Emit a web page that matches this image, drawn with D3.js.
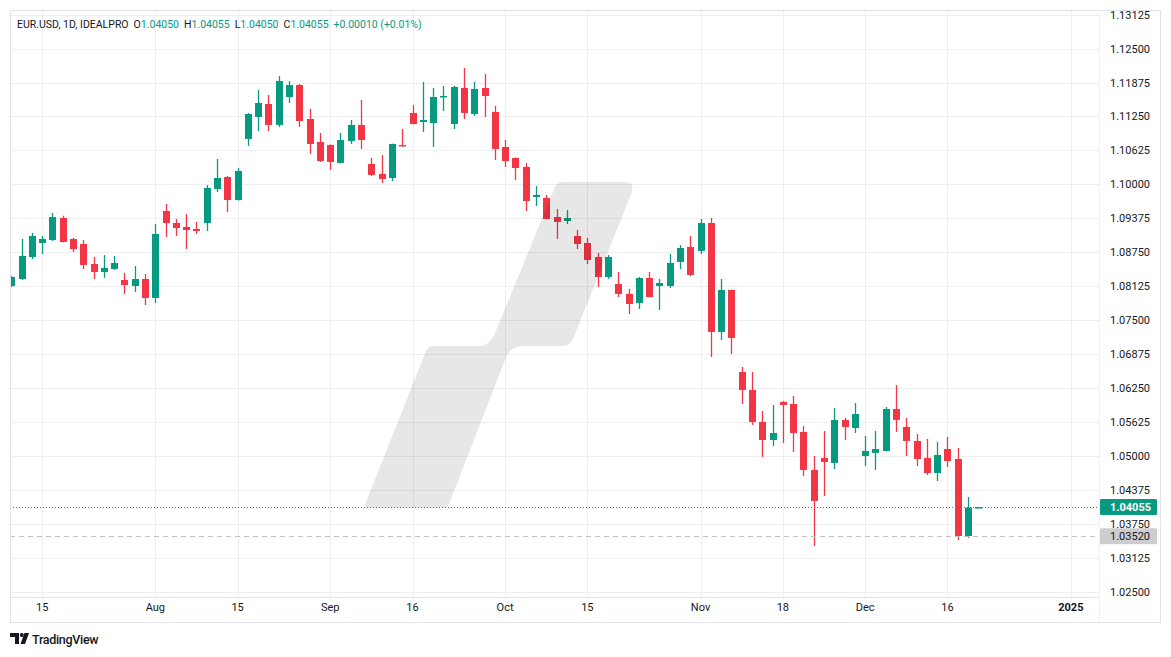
<!DOCTYPE html>
<html>
<head>
<meta charset="utf-8">
<script src="https://cdn.jsdelivr.net/npm/d3@7"></script>
<style>
  body { margin: 0; background: #fff; }
  svg { display: block; font-family: Roboto, "Noto Sans", sans-serif; }
</style>
</head>
<body>
<svg id="chart" width="1171" height="657"></svg>
<script>
// EUR.USD daily bars, one entry per bar (index 0 .. 94)
const opens = [1.08128,1.08257,1.08662,1.08920,1.08975,1.09380,1.08994,1.08902,1.08533,1.08386,
  1.08441,1.08238,1.08128,1.08257,1.07907,1.09509,1.09288,1.09215,1.09178,1.09288,
  1.09915,1.10136,1.09712,1.10836,1.11241,1.11480,1.11094,1.11609,1.11830,1.11204,
  1.10780,1.10725,1.10394,1.10799,1.11094,1.10375,1.10191,1.10117,1.10725,1.11315,
  1.11149,1.11130,1.11619,1.11112,1.11775,1.11296,1.11775,1.11333,1.10688,1.10486,
  1.10320,1.09767,1.09749,1.09399,1.09325,1.09049,1.08920,1.08662,1.08294,1.08165,
  1.07981,1.07815,1.08275,1.08128,1.08128,1.08570,1.08846,1.08773,1.09288,1.07281,
  1.08054,1.06544,1.06212,1.05623,1.05291,1.05991,1.05954,1.05439,1.04739,1.04960,
  1.04868,1.05660,1.05512,1.04997,1.05052,1.05089,1.05862,1.05531,1.05273,1.04960,
  1.04683,1.05125,1.04941,1.03523,1.04050];
const highs = [1.08312,1.08994,1.09104,1.09049,1.09473,1.09423,1.09012,1.08975,1.08662,1.08699,
  1.08681,1.08367,1.08496,1.08349,1.09270,1.09638,1.09362,1.09454,1.09307,1.09988,
  1.10467,1.10154,1.10301,1.11315,1.11738,1.11646,1.11996,1.11904,1.11849,1.11388,
  1.10946,1.10735,1.10946,1.11186,1.11554,1.10486,1.10541,1.10750,1.11020,1.11462,
  1.11886,1.11775,1.11812,1.11812,1.12143,1.11886,1.12033,1.11444,1.10817,1.10495,
  1.10394,1.09970,1.09804,1.09546,1.09528,1.09159,1.09012,1.08736,1.08699,1.08386,
  1.08073,1.08294,1.08386,1.08257,1.08717,1.08883,1.09049,1.09362,1.09380,1.08257,
  1.08060,1.06636,1.06544,1.05825,1.05936,1.06010,1.06102,1.05549,1.04997,1.05457,
  1.05881,1.05696,1.05973,1.05365,1.05457,1.05899,1.06304,1.05696,1.05402,1.05310,
  1.05254,1.05347,1.05144,1.04241,1.04055];
const lows = [1.08110,1.08238,1.08625,1.08717,1.08957,1.08930,1.08754,1.08441,1.08257,1.08275,
  1.08423,1.07981,1.08017,1.07778,1.07815,1.09031,1.09049,1.08809,1.09086,1.09141,
  1.09859,1.09491,1.09700,1.10707,1.10983,1.10983,1.11057,1.11499,1.11057,1.10559,
  1.10412,1.10265,1.10385,1.10744,1.10651,1.10154,1.10025,1.10062,1.10700,1.11105,
  1.10965,1.10688,1.11351,1.11020,1.11204,1.11259,1.11241,1.10449,1.10320,1.10080,
  1.09509,1.09602,1.09355,1.08994,1.09270,1.08809,1.08533,1.08110,1.08257,1.07925,
  1.07612,1.07704,1.07915,1.07686,1.08091,1.08441,1.08312,1.08717,1.06820,1.07133,
  1.06875,1.05954,1.05568,1.04978,1.05181,1.05236,1.05070,1.04628,1.03339,1.04260,
  1.04757,1.05291,1.05420,1.04812,1.04739,1.05080,1.05439,1.04997,1.04812,1.04647,
  1.04536,1.04794,1.03449,1.03486,1.04050];
const closes = [1.08294,1.08681,1.09049,1.08994,1.09399,1.08938,1.08809,1.08515,1.08386,1.08460,
  1.08552,1.08146,1.08257,1.07907,1.09086,1.09288,1.09196,1.09159,1.09141,1.09933,
  1.10117,1.09712,1.10246,1.11296,1.11499,1.11094,1.11904,1.11830,1.11167,1.10744,
  1.10430,1.10412,1.10817,1.11094,1.10817,1.10173,1.10099,1.10744,1.10707,1.11112,
  1.11186,1.11609,1.11628,1.11794,1.11315,1.11757,1.11628,1.10651,1.10430,1.10301,
  1.09694,1.09804,1.09362,1.09307,1.09380,1.08902,1.08607,1.08294,1.08662,1.07981,
  1.07796,1.08275,1.07925,1.08183,1.08552,1.08828,1.08331,1.09288,1.07281,1.08054,
  1.07170,1.06212,1.05623,1.05291,1.05420,1.05936,1.05420,1.04739,1.04168,1.04886,
  1.05660,1.05531,1.05770,1.05089,1.05125,1.05862,1.05660,1.05273,1.04941,1.04683,
  1.05015,1.04904,1.03523,1.04045,1.04055];

// time axis: bar index where each label sits
const timeTickIdx = [3, 14, 22, 31, 39, 48, 56, 67, 75, 83, 91, 103];
const timeTickLabels = ["15", "Aug", "15", "Sep", "16", "Oct", "15", "Nov", "18", "Dec", "16", "2025"];

const priceTicks = [1.025, 1.03125, 1.0375, 1.04375, 1.05, 1.05625, 1.0625, 1.06875, 1.075,
  1.08125, 1.0875, 1.09375, 1.1, 1.10625, 1.1125, 1.11875, 1.125, 1.13125];

const lastPrice = 1.04055;
const refPrice = 1.03520;
const prevClose = 1.04045;

const UP = "#089981", DOWN = "#F23645", TEXT = "#131722";
const GRID = "#edeef1", BORDER = "#e0e3eb";

const svg = d3.select("#chart");
const plot = {left: 10, top: 10, right: 1099, bottom: 597};
const axisRight = 1160, timeBottom = 622;

const x = d3.scaleLinear().domain([0, 94]).range([11.3, 978.3]);
const y = d3.scaleLinear().domain([1.025, 1.13125]).range([591.5, 14.7]);

svg.append("defs").append("clipPath").attr("id", "plotClip")
  .append("rect")
  .attr("x", plot.left).attr("y", plot.top)
  .attr("width", plot.right - plot.left).attr("height", plot.bottom - plot.top);
svg.select("defs").append("clipPath").attr("id", "axisClip")
  .append("rect")
  .attr("x", plot.right).attr("y", plot.top)
  .attr("width", axisRight - plot.right).attr("height", plot.bottom - plot.top);

const g = svg.append("g").attr("clip-path", "url(#plotClip)");

// grid
g.selectAll(".hgrid").data(priceTicks).enter().append("line")
  .attr("x1", plot.left).attr("x2", plot.right)
  .attr("y1", d => Math.round(y(d)) + 0.5).attr("y2", d => Math.round(y(d)) + 0.5)
  .attr("stroke", GRID);
g.selectAll(".vgrid").data(timeTickIdx).enter().append("line")
  .attr("x1", d => Math.round(x(d)) + 0.5).attr("x2", d => Math.round(x(d)) + 0.5)
  .attr("y1", plot.top).attr("y2", plot.bottom)
  .attr("stroke", GRID);

// candles
const bars = d3.range(opens.length).map(i => ({
  i, o: opens[i], h: highs[i], l: lows[i], c: closes[i]
}));
const bodyW = 7;
const cg = g.selectAll(".candle").data(bars).enter().append("g")
  .attr("fill", d => d.c >= d.o ? UP : DOWN)
  .attr("stroke", d => d.c >= d.o ? UP : DOWN);
cg.append("line")
  .attr("x1", d => Math.round(x(d.i)) + 0.5).attr("x2", d => Math.round(x(d.i)) + 0.5)
  .attr("y1", d => y(d.h)).attr("y2", d => y(d.l))
  .attr("stroke-width", 1.3);
cg.append("rect")
  .attr("stroke", "none")
  .attr("x", d => Math.round(x(d.i)) + 0.5 - bodyW / 2)
  .attr("width", bodyW)
  .attr("y", d => y(Math.max(d.o, d.c)))
  .attr("height", d => Math.max(1.5, Math.abs(y(d.o) - y(d.c))));

// watermark logo
g.append("path")
  .attr("d", "M368,508 L444,508 Q448,508 449,504 L505,360 Q509,347 522,346 L563,346 Q570,346 573,339 " +
    "L632,192 Q634,182 626,182 L563,182 Q557,182 555,187 L495,333 Q490,346 478,346 L433,346 " +
    "Q428,346 426,351 L366,502 Q364,508 368,508 Z")
  .attr("fill", "rgba(0,0,0,0.095)");

// price lines
g.append("line")
  .attr("x1", plot.left).attr("x2", plot.right)
  .attr("y1", Math.round(y(lastPrice)) + 0.5).attr("y2", Math.round(y(lastPrice)) + 0.5)
  .attr("stroke", UP).attr("stroke-dasharray", "1,2");
g.append("line")
  .attr("x1", plot.left).attr("x2", plot.right)
  .attr("y1", Math.round(y(refPrice)) + 0.5).attr("y2", Math.round(y(refPrice)) + 0.5)
  .attr("stroke", "#bfc1c7").attr("stroke-dasharray", "5,4");

// frame
svg.append("rect")
  .attr("x", plot.left + 0.5).attr("y", plot.top + 0.5)
  .attr("width", axisRight - plot.left).attr("height", timeBottom - plot.top)
  .attr("fill", "none").attr("stroke", BORDER);
svg.append("line")
  .attr("x1", plot.left).attr("x2", plot.right)
  .attr("y1", plot.bottom + 0.5).attr("y2", plot.bottom + 0.5)
  .attr("stroke", BORDER);
svg.append("line")
  .attr("x1", plot.right + 0.5).attr("x2", plot.right + 0.5)
  .attr("y1", plot.top).attr("y2", timeBottom)
  .attr("stroke", "#f0f1f4");

// price axis
const pa = svg.append("g").attr("clip-path", "url(#axisClip)")
  .style("font-size", "11px").attr("fill", TEXT);
pa.selectAll(".pt").data(priceTicks).enter().append("text")
  .attr("x", 1110).attr("y", d => y(d) + 4)
  .text(d => d.toFixed(5));

function priceBadge(v, bg, fg, bold) {
  const cy = y(v);
  pa.append("rect").attr("x", 1100).attr("y", cy - 8).attr("width", 57).attr("height", 16)
    .attr("rx", 1.5).attr("fill", bg);
  pa.append("text").attr("x", 1110).attr("y", cy + 4)
    .attr("fill", fg).style("font-weight", bold ? 700 : 400)
    .text(v.toFixed(5));
}
priceBadge(refPrice, "#cdcdcd", TEXT, false);
priceBadge(lastPrice, UP, "#fff", true);

// time axis
svg.append("g").style("font-size", "11px").attr("fill", TEXT)
  .selectAll("text").data(timeTickIdx).enter().append("text")
  .attr("x", d => x(d)).attr("y", 611)
  .attr("text-anchor", "middle")
  .style("font-weight", (d, i) => timeTickLabels[i] === "2025" ? 700 : 400)
  .text((d, i) => timeTickLabels[i]);

// legend header
const last = opens.length - 1;
const head = svg.append("text").attr("x", 17).attr("y", 28)
  .style("font-size", "10.5px").attr("fill", TEXT);
head.append("tspan").text("EUR.USD, 1D, IDEALPRO");
[["O", opens[last]], ["H", highs[last]], ["L", lows[last]], ["C", closes[last]]].forEach(([k, v]) => {
  head.append("tspan").attr("dx", 5).text(k);
  head.append("tspan").attr("fill", UP).text(v.toFixed(5));
});
const chg = closes[last] - prevClose;
head.append("tspan").attr("dx", 5).attr("fill", UP)
  .text("+" + chg.toFixed(5) + " (+" + (chg / prevClose * 100).toFixed(2) + "%)");

// TradingView logo
const logo = svg.append("g").attr("fill", TEXT);
logo.append("path").attr("d", "M10,633 L19,633 L19,644 L15,644 L15,637 L10,637 Z");
logo.append("circle").attr("cx", 21.8).attr("cy", 635).attr("r", 2);
logo.append("path").attr("d", "M24.5,633 L29,633 L25,644 L20.5,644 Z");
logo.append("text").attr("x", 32).attr("y", 643.5)
  .style("font-size", "12.5px").style("font-weight", 500).style("letter-spacing", "-0.3px")
  .text("TradingView");
</script>
</body>
</html>
